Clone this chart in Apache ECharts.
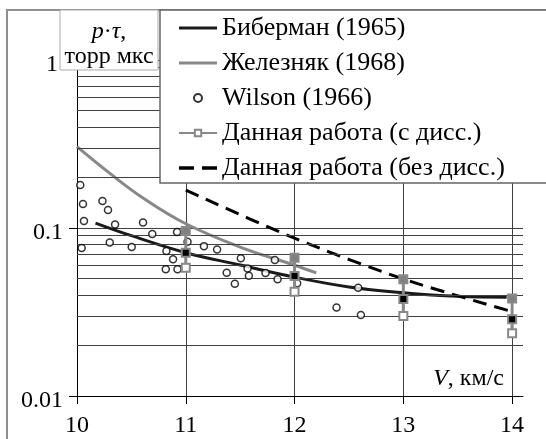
<!DOCTYPE html>
<html><head><meta charset="utf-8">
<script src="https://cdn.jsdelivr.net/npm/echarts@6/dist/echarts.min.js"></script>
<style>html,body{margin:0;padding:0;background:#fff}#c{width:546px;height:439px}</style>
</head><body><div id="c"></div>
<script>
const xTicks = [10, 11, 12, 13, 14];
const minorY = [0.02,0.03,0.04,0.05,0.06,0.07,0.08,0.09,0.2,0.3,0.4,0.5,0.6,0.7,0.8,0.9];
const bibX = [10.17, 10.5, 11, 11.5, 12, 12.5, 13, 13.5, 13.95];
const bibY = [0.107, 0.090, 0.0713, 0.0602, 0.051, 0.0446, 0.0412, 0.0392, 0.0387];
const zhX = [10, 10.3, 10.6, 11, 11.5, 12, 12.2];
const zhY = [0.305, 0.212, 0.152, 0.106, 0.077, 0.060, 0.054];
const wX = [10.03,10.055,10.064,10.043,10.234,10.285,10.35,10.301,10.503,10.607,10.692,10.92,11.016,10.822,10.883,10.816,10.924,11.167,11.288,11.376,11.451,11.506,11.568,11.58,11.733,11.819,11.844,12.024,12.585,12.386,12.61];
const wY = [0.180,0.139,0.110,0.076,0.145,0.128,0.105,0.082,0.077,0.108,0.092,0.0947,0.0829,0.073,0.0651,0.0568,0.0568,0.078,0.0745,0.0541,0.0465,0.066,0.0575,0.052,0.054,0.0645,0.0495,0.0469,0.0441,0.0336,0.0303];
const sqX = [11, 12, 13, 14];
const sqTop = [0.096, 0.0666, 0.0495, 0.038];
const sqMid = [0.0713, 0.0518, 0.0378, 0.0286];
const sqLow = [0.058, 0.0418, 0.0299, 0.0236];
const ndX = [11, 12, 13, 14];
const ndY = [0.168, 0.087, 0.0497, 0.0318];

const names = ['Биберман (1965)', 'Железняк (1968)', 'Wilson (1966)', 'Данная работа (с дисс.)', 'Данная работа (без дисс.)'];
const FONT = '"Liberation Serif", "Times New Roman", serif';
const GRID = '#404040';
const zip = (a, b) => a.map((v, i) => [v, b[i]]);

const solidIcon = 'path://M0,0 L38,0 L38,3 L0,3 Z';
const dashIcon = 'path://M0,0 L13,0 L13,3 L0,3 Z M20,0 L33,0 L33,3 L20,3 Z';

const series = [];
series.push({
  type: 'line', name: '_grid', data: [], silent: true, z: 1,
  markLine: {
    silent: true, symbol: ['none', 'none'], label: {show: false},
    lineStyle: {color: GRID, width: 1, type: 'solid'},
    data: minorY.map(v => ({yAxis: v}))
  }
});
series.push({type: 'line', name: names[0], data: zip(bibX, bibY), smooth: 0.4, symbol: 'none',
  lineStyle: {color: '#1a1a1a', width: 3}, itemStyle: {color: '#1a1a1a'}, z: 4});
series.push({type: 'line', name: names[1], data: zip(zhX, zhY), smooth: 0.4, symbol: 'none',
  lineStyle: {color: '#888888', width: 3}, itemStyle: {color: '#888888'}, z: 3});
series.push({type: 'scatter', name: names[2], data: zip(wX, wY), symbol: 'circle', symbolSize: 7,
  itemStyle: {color: '#ffffff', borderColor: '#000', borderWidth: 1.5}, z: 5});
series.push({type: 'line', name: names[4], data: zip(ndX, ndY), smooth: 0.3, symbol: 'none',
  lineStyle: {color: '#000', width: 3, type: [14, 8]}, itemStyle: {color: '#000'}, z: 4});
sqX.forEach((x, i) => {
  series.push({
    type: 'line', name: names[3], symbol: 'rect', symbolSize: 8, showSymbol: true, z: 6,
    lineStyle: {color: '#888888', width: 3},
    itemStyle: {color: '#ffffff', borderColor: '#888888', borderWidth: 2},
    data: [
      {value: [x, sqTop[i]], itemStyle: {color: '#808080'}},
      {value: [x, sqMid[i]], itemStyle: {color: '#000000'}},
      {value: [x, sqLow[i]], itemStyle: {color: '#ffffff'}}
    ]
  });
});

const chart = echarts.init(document.getElementById('c'), null, {renderer: 'canvas'});
chart.setOption({
  animation: false,
  backgroundColor: '#fff',
  textStyle: {fontFamily: FONT},
  grid: {left: 77, right: 23, top: 60, bottom: 43, containLabel: false},
  xAxis: {
    type: 'value', min: 10, max: 14.1, interval: 1,
    axisLine: {show: true, lineStyle: {color: '#000', width: 1}},
    axisTick: {show: true, inside: false, length: 8, customValues: xTicks, lineStyle: {color: '#000'}},
    axisLabel: {customValues: xTicks, margin: 18, fontFamily: FONT, fontSize: 24, color: '#000'},
    splitLine: {show: true, showMinLine: false, lineStyle: {color: GRID, width: 1}}
  },
  yAxis: {
    type: 'log', logBase: 10, min: 0.01, max: 1,
    axisLine: {show: true, lineStyle: {color: '#000', width: 1}},
    axisTick: {show: true, inside: false, length: 8, lineStyle: {color: '#000'}},
    axisLabel: {
      margin: 14, color: '#000',
      formatter: v => (v === 1 ? '{b|' + v + '}' : '{a|' + v + '}'),
      rich: {
        a: {fontFamily: FONT, fontSize: 24, color: '#000', padding: [10, 0, 0, 0]},
        b: {fontFamily: FONT, fontSize: 24, color: '#000', padding: [10, 5, 0, 0]}
      }
    },
    splitLine: {show: true, lineStyle: {color: GRID, width: 1}},
    minorTick: {show: false}, minorSplitLine: {show: false}
  },
  legend: {
    data: [
      {name: names[0], icon: solidIcon},
      {name: names[1], icon: solidIcon},
      {name: names[2]},
      {name: names[3]},
      {name: names[4], icon: dashIcon}
    ],
    orient: 'vertical', left: 178, top: 13, padding: 0,
    itemWidth: 38, itemHeight: 8, itemGap: 5, z: 101, selectedMode: false,
    textStyle: {fontFamily: FONT, fontSize: 26, lineHeight: 30, color: '#000'}
  },
  graphic: [
    {type: 'rect', z: 99, shape: {x: 7, y: 10, width: 600, height: 500}, style: {fill: 'none', stroke: '#909090', lineWidth: 2}, silent: true},
    {type: 'rect', z: 100, shape: {x: 160, y: 10, width: 420, height: 173}, style: {fill: '#fff', stroke: '#666', lineWidth: 1.5}, silent: true},
    {type: 'rect', z: 100, shape: {x: 60, y: 10, width: 98, height: 60}, style: {fill: '#fff', stroke: '#aaa', lineWidth: 1}, silent: true},
    {type: 'text', z: 102, x: 109, y: 32, silent: true, style: {
      text: '{i|p}·{i|τ},', align: 'center', verticalAlign: 'middle', fill: '#000',
      font: '24px "Liberation Serif"',
      rich: {i: {fontStyle: 'italic', fontFamily: FONT, fontSize: 24, fill: '#000'}}
    }},
    {type: 'text', z: 102, x: 109, y: 57, silent: true, style: {
      text: 'торр мкс', align: 'center', verticalAlign: 'middle', fill: '#000',
      font: '24px "Liberation Serif"'
    }},
    {type: 'text', z: 102, x: 504, y: 379, silent: true, style: {
      text: '{i|V}, км/с', align: 'right', verticalAlign: 'middle', fill: '#000',
      font: '24px "Liberation Serif"',
      rich: {i: {fontStyle: 'italic', fontFamily: FONT, fontSize: 24, fill: '#000'}}
    }}
  ],
  series: series
});
</script></body></html>
